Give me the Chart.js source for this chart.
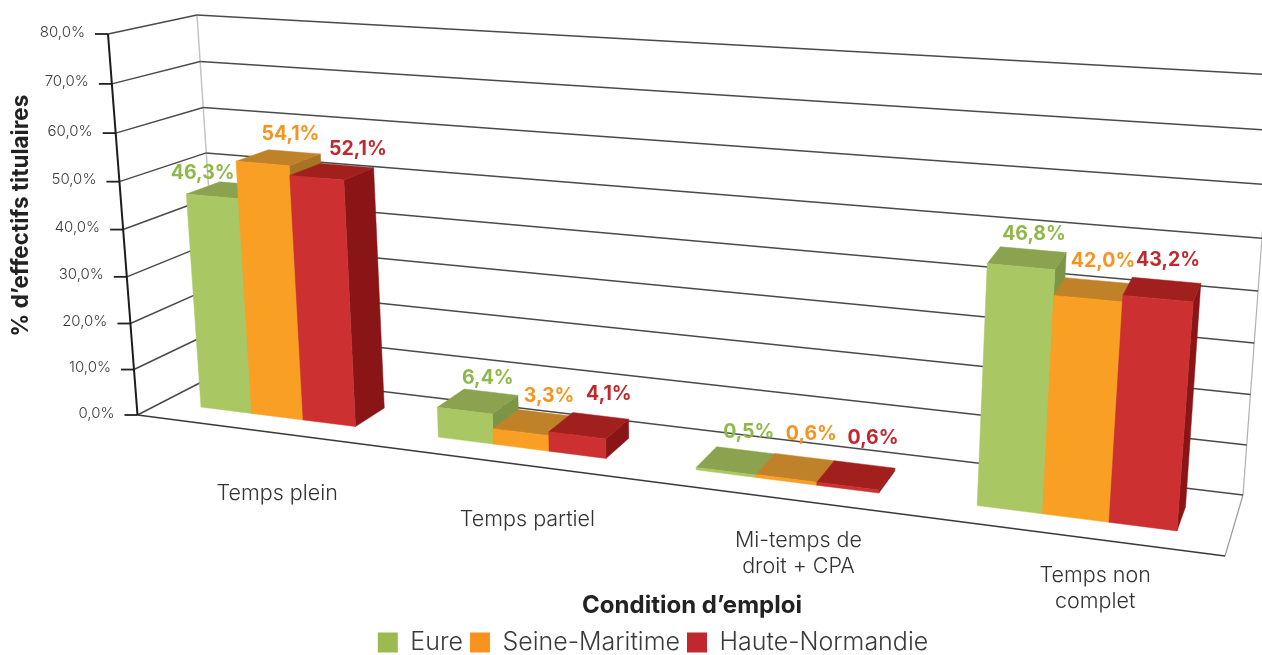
<!DOCTYPE html>
<html lang="fr"><head><meta charset="utf-8">
<style>html,body{margin:0;padding:0;background:#fff}#wrap{width:1262px;height:655px}</style>
<script src="https://cdn.jsdelivr.net/npm/chart.js@4"></script>
</head><body><div id="wrap"><canvas id="c" width="1262" height="655"></canvas></div>
<script>
const categories = ['Temps plein', 'Temps partiel', 'Mi-temps de\ndroit + CPA', 'Temps non\ncomplet'];
const eure = [46.3, 6.4, 0.5, 46.8];
const seineMaritime = [54.1, 3.3, 0.6, 42.0];
const hauteNormandie = [52.1, 4.1, 0.6, 43.2];
const seriesNames = ['Eure', 'Seine-Maritime', 'Haute-Normandie'];
const FONT = 'Inter, sans-serif';

// Styling
const faceColors = [
  {legend:'#9BBB50', label:'#8FB84A', front:'#A9C762', top:'#8BA24F', side:'#7C9446'},
  {legend:'#F7931E', label:'#F7931E', front:'#F9A024', top:'#C08228', side:'#A87424'},
  {legend:'#C1272D', label:'#C1272D', front:'#CC3030', top:'#A1201E', side:'#8A1516'}
];
// Perspective box: corners of the front and back planes as (u,v)=(0,0),(1,0),(1,1),(0,1)
const frontQuad = [[137.5,415],[1225,556],[1261,108],[108,34]];
const backQuad  = [[221,372],[1243,495],[1274,75],[197,15]];
const depthStart = 0.30, depthEnd = 0.70;
// label nudges from the centre of each bar's top face, per series/category
const labelNudge = [
  [[-26,-17],[10,-23],[13,-29],[7,-24]],
  [[12,-24],[16,-26],[16,-34],[10,-29]],
  [[26,-23],[20,-31],[17,-37],[6,-29]]
];
const categoryNudgeX = [23,25,26,28], categoryNudgeY = [63,57,43,40];

function homography(q){
  const [[x0,y0],[x1,y1],[x2,y2],[x3,y3]] = q;
  const dx1=x1-x2, dx2=x3-x2, sx=x0-x1+x2-x3, dy1=y1-y2, dy2=y3-y2, sy=y0-y1+y2-y3;
  const den=dx1*dy2-dx2*dy1, g=(sx*dy2-dx2*sy)/den, h=(dx1*sy-sx*dy1)/den;
  const a=x1-x0+g*x1, b=x3-x0+h*x3, d=y1-y0+g*y1, e=y3-y0+h*y3;
  return (u,v)=>{const w=g*u+h*v+1; return [(a*u+b*v+x0)/w,(d*u+e*v+y0)/w];};
}
const front = homography(frontQuad), back = homography(backQuad);
function project(u,v,t){
  const p=front(u,v), q=back(u,v);
  return [p[0]+(q[0]-p[0])*t, p[1]+(q[1]-p[1])*t];
}
function line(ctx,a,b,color,w){ctx.strokeStyle=color;ctx.lineWidth=w;ctx.beginPath();ctx.moveTo(a[0],a[1]);ctx.lineTo(b[0],b[1]);ctx.stroke();}
function poly(ctx,pts,color){ctx.fillStyle=color;ctx.beginPath();pts.forEach((p,i)=>i?ctx.lineTo(p[0],p[1]):ctx.moveTo(p[0],p[1]));ctx.closePath();ctx.fill();ctx.strokeStyle=color;ctx.lineWidth=0.5;ctx.stroke();}

const box3d = {
  id:'box3d',
  afterLayout(chart){ // legend sits right of centre and low; axis title sits lower too
    const l=chart.legend;
    if(l){l.left+=22;l.right+=22;l.top+=10;l.bottom+=10;}
    const x=chart.scales.x;
    x.top+=11;x.bottom+=11;
  },
  beforeDatasetsDraw(chart){
    const {ctx,scales:{x,y}}=chart;
    const area=chart.chartArea;
    const W=area.right-area.left, H=area.bottom-area.top;
    ctx.save();
    ctx.lineCap='butt';
    line(ctx,project(0,0,1),project(0,1,1),'#c4c4c4',1.5);
    line(ctx,project(1,0,1),project(1,1,1),'#b0b0b0',1.2);
    line(ctx,project(1,0,0),project(1,0,1),'#9a9a9a',1.2);
    // gridlines from the y scale's ticks
    y.ticks.forEach(t=>{
      const v=(area.bottom-y.getPixelForValue(t.value))/H;
      line(ctx,project(0,v,0),project(0,v,1),'#4a4a4a',1.5);
      line(ctx,project(0,v,1),project(1,v,1),'#4a4a4a',1.5);
      const f=project(0,v,0);
      line(ctx,[f[0]-13,f[1]],f,'#222',1.8);
      ctx.fillStyle='#3a3a3a';ctx.font='300 15px '+FONT;ctx.textAlign='right';ctx.textBaseline='middle';
      ctx.fillText(t.label,f[0]-23,f[1]-2);
    });
    line(ctx,project(0,0,0),project(1,0,0),'#3a3a3a',1.6);
    line(ctx,project(0,0,0),project(0,1,0),'#1c1c1c',2);
    // category labels
    ctx.fillStyle='#333';ctx.font='300 21.5px '+FONT;ctx.textAlign='center';ctx.textBaseline='middle';
    categories.forEach((c,i)=>{
      const u=(x.getPixelForValue(i)-area.left)/W;
      const p=project(u,0,0);
      c.split('\n').forEach((s,j)=>ctx.fillText(s,p[0]+categoryNudgeX[i],p[1]+categoryNudgeY[i]+j*26));
    });
    // bars, left to right inside each group
    [0,1,2].forEach(s=>{
      const col=faceColors[s];
      chart.getDatasetMeta(s).data.forEach(el=>{
        const u0=(el.x-el.width/2-area.left)/W, u1=(el.x+el.width/2-area.left)/W;
        const v0=(area.bottom-el.base)/H, v1=(area.bottom-el.y)/H;
        const P=project;
        poly(ctx,[P(u1,v0,depthStart),P(u1,v0,depthEnd),P(u1,v1,depthEnd),P(u1,v1,depthStart)],col.side);
        poly(ctx,[P(u0,v1,depthStart),P(u1,v1,depthStart),P(u1,v1,depthEnd),P(u0,v1,depthEnd)],col.top);
        poly(ctx,[P(u0,v0,depthStart),P(u1,v0,depthStart),P(u1,v1,depthStart),P(u0,v1,depthStart)],col.front);
      });
    });
    ctx.restore();
  },
  beforeDatasetDraw(){ return false; },
  afterDatasetsDraw(chart){
    const {ctx}=chart, area=chart.chartArea;
    const W=area.right-area.left, H=area.bottom-area.top;
    ctx.save();
    ctx.font='bold 19.5px '+FONT;ctx.textAlign='center';ctx.textBaseline='middle';
    chart.data.datasets.forEach((ds,s)=>{
      chart.getDatasetMeta(s).data.forEach((el,i)=>{
        const c=project((el.x-area.left)/W,(area.bottom-el.y)/H,(depthStart+depthEnd)/2);
        ctx.fillStyle=faceColors[s].label;
        ctx.fillText(ds.data[i].toFixed(1).replace('.',',')+'%',c[0]+labelNudge[s][i][0],c[1]+labelNudge[s][i][1]);
      });
    });
    ctx.restore();
  }
};

new Chart(document.getElementById('c'),{
  type:'bar',
  data:{labels:categories,datasets:[eure,seineMaritime,hauteNormandie].map((d,i)=>({
    label:seriesNames[i],data:d,backgroundColor:faceColors[i].legend,borderWidth:0,
    barPercentage:1,categoryPercentage:0.66}))},
  plugins:[box3d],
  options:{
    responsive:false,animation:false,
    layout:{padding:0},
    plugins:{
      tooltip:{enabled:false},
      legend:{position:'bottom',labels:{boxWidth:20,boxHeight:20,padding:7,color:'#3a3a3a',font:{family:FONT,size:25,weight:'300'}}}
    },
    scales:{
      x:{grid:{display:false},border:{display:false},ticks:{display:false},
        title:{display:true,text:'Condition d’emploi',color:'#222',font:{family:FONT,size:24,weight:'bold'},padding:{top:141,bottom:4}}},
      y:{min:0,max:80,grid:{display:false},border:{display:false},
        ticks:{display:false,stepSize:10,callback:v=>v.toFixed(1).replace('.',',')+'%'},
        title:{display:true,text:'% d’effectifs titulaires',color:'#222',font:{family:FONT,size:22.5,weight:'bold'},padding:{top:8,bottom:79}}}
    }
  }
});
</script></body></html>
